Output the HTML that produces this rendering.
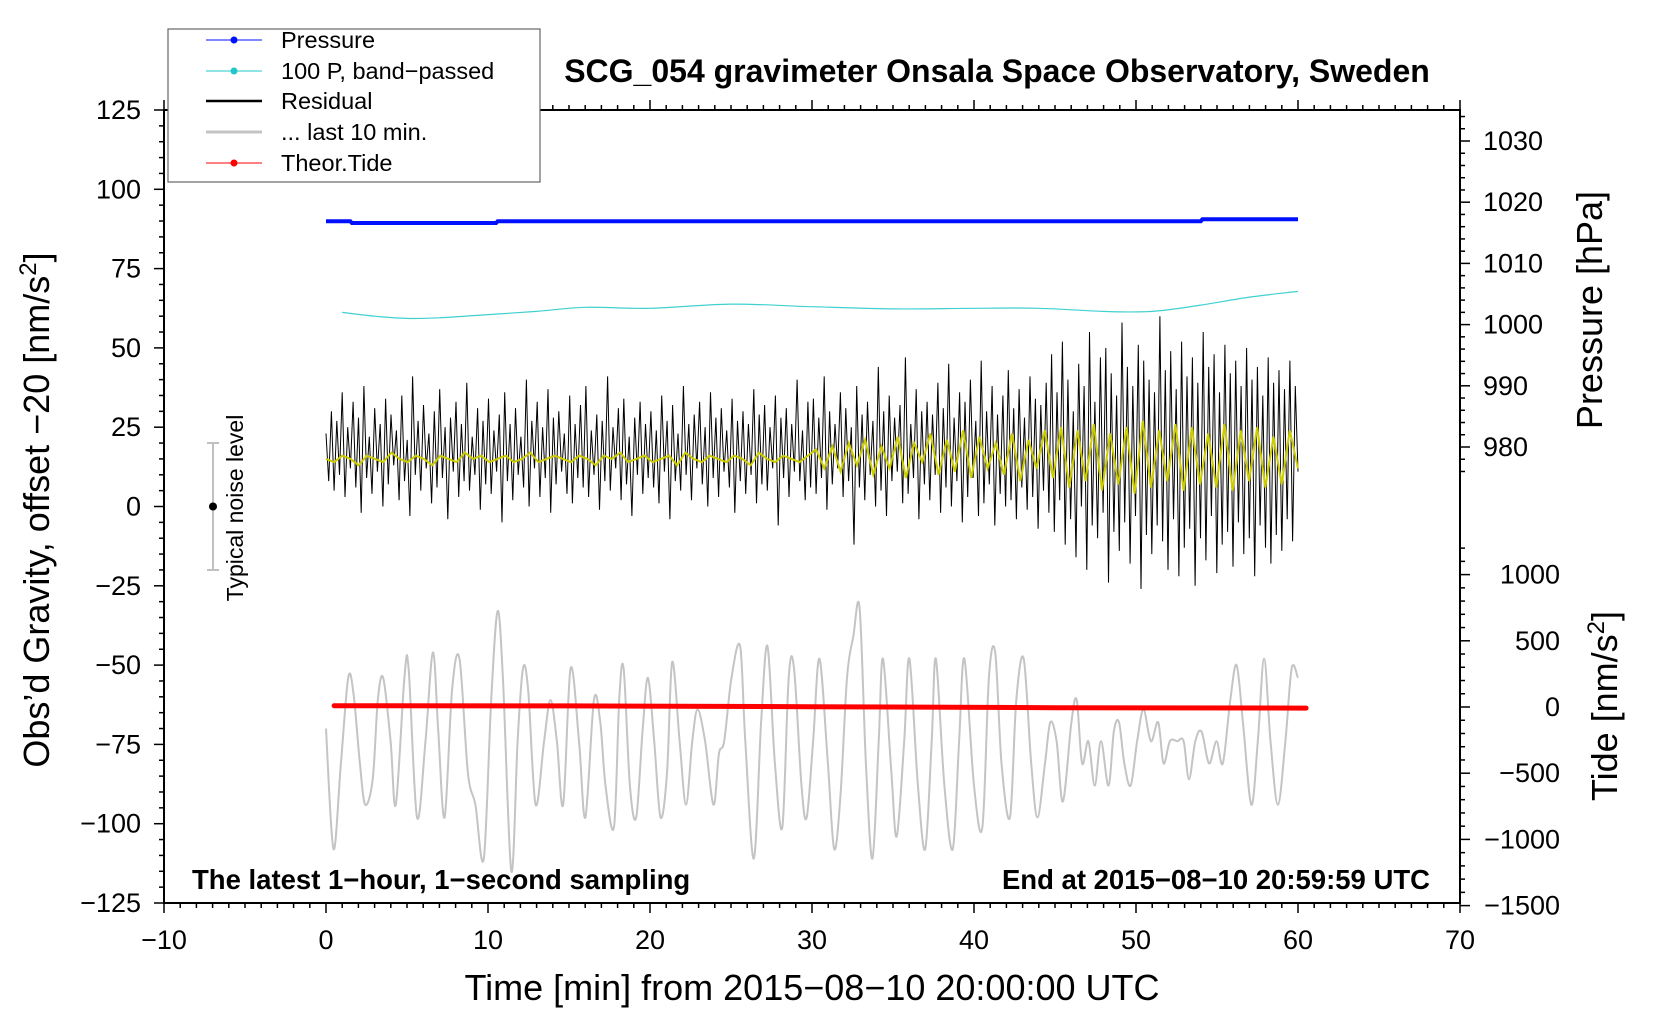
<!DOCTYPE html>
<html><head><meta charset="utf-8"><style>
html,body{margin:0;padding:0;background:#fff;}
svg{display:block;font-family:"Liberation Sans",sans-serif;}
</style></head><body>
<svg id="chart" width="1660" height="1020" viewBox="0 0 1660 1020" xmlns="http://www.w3.org/2000/svg">
<rect width="1660" height="1020" fill="#fff"/>
<g id="axes"></g>
<g id="series"></g>
<g id="labels"></g>
</svg>
<script>
// ---- data ----
const pressT=[0,1.5,1.6,10.5,10.6,54,54.1,60];
const pressV=[1016.9,1016.9,1016.6,1016.6,1016.9,1016.9,1017.2,1017.2];
const bpT=[1,3,5,7,10,13,16,20,25,30,35,40,44,48,51,54,57,60];
const bpV=[61.2,60,59.3,59.5,60.5,61.5,62.8,62.5,63.8,63,62.3,62.5,62.5,61.5,61.5,63.5,66,67.8];
const residual=[23,8,30,5,27,10,36,3,25,12,33,6,28,-2,38,9,22,4,31,11,26,0,34,7,29,13,24,2,35,8,21,-3,41,10,27,5,32,12,23,1,30,6,37,9,25,-4,28,11,33,3,26,8,39,5,22,10,31,-1,27,7,
34,4,24,11,29,-5,36,8,26,2,31,10,22,6,40,0,27,12,33,3,25,9,37,-2,28,7,30,11,23,4,35,1,26,9,32,6,38,3,24,10,29,-1,27,8,41,5,25,12,31,2,34,7,22,-3,28,10,33,4,26,9,
30,6,24,1,35,11,27,-4,32,8,23,5,38,10,26,2,29,12,33,7,25,0,36,9,28,3,31,11,24,6,34,-2,27,8,30,4,26,10,37,1,29,7,32,5,25,12,35,-6,28,9,31,3,26,11,40,8,24,2,33,6,
34,4,28,9,41,-1,30,7,26,12,36,3,31,8,25,-12,38,6,29,2,33,10,27,0,44,5,30,-3,35,8,28,11,32,1,47,4,26,9,37,-4,30,7,33,2,29,10,39,-2,31,6,45,0,28,8,36,-5,33,3,40,9,27,-3,46,1,30,7,38,-6,29,4,35,0,43,2,31,-4,37,6,28,-1,41,3,34,-7,32,5,39,-2,
48,-8,36,2,52,-12,40,-4,30,-16,45,0,38,-20,55,-6,33,-10,47,-2,50,-24,42,-8,35,-14,58,-5,44,-18,38,-3,51,-26,46,-9,40,-15,36,-6,60,-11,43,-20,49,-4,37,-22,52,-13,41,-7,47,-25,39,-10,55,-17,44,-3,48,-21,36,-12,51,-8,42,-19,46,-5,38,-15,50,-10,40,-22,44,-6,35,-13,47,-18,39,-9,43,-14,37,-4,46,-11,38,11];
const smooth=[15,14,16,15,13,16,15,14,17,15,14,16,15,13,16,15,14,17,15,16,14,15,16,14,15,17,14,15,16,15,14,16,15,13,16,15,17,14,15,16,14,15,16,13,17,15,14,16,15,14,16,15,13,17,15,14,16,15,14,16,
18,12,19,11,20,13,21,10,19,12,22,9,20,14,23,10,21,11,24,9,22,12,20,10,23,8,21,12,24,9,
25,6,24,8,26,5,23,7,25,4,27,6,24,8,26,5,25,7,23,6,26,5,24,8,25,6,22,7,24,12];
const lastT=[0,0.46,0.92,1.37,1.7,2.09,2.42,2.88,3.2,3.53,3.99,4.31,4.84,5.1,5.62,6.14,6.6,6.93,7.32,7.78,8.24,8.76,9.22,9.74,10.2,10.59,10.92,11.44,11.83,12.16,12.48,12.94,13.46,13.86,14.25,14.64,15.1,15.62,16.01,16.54,16.93,17.25,17.78,18.1,18.37,18.76,19.15,19.54,19.87,20.26,20.65,21.05,21.37,21.83,22.22,22.61,22.94,23.4,23.92,24.25,24.58,25.03,25.56,25.88,26.41,26.86,27.25,27.71,28.17,28.56,28.89,29.35,29.67,30.07,30.46,30.98,31.37,31.76,32.16,32.55,32.94,33.33,33.73,34.12,34.38,34.9,35.23,35.69,36.01,36.54,36.99,37.39,37.65,38.17,38.69,39.08,39.41,40,40.52,40.92,41.31,41.7,42.22,42.61,43.07,43.53,43.92,44.38,44.71,45.1,45.49,46.01,46.34,46.67,47.06,47.45,47.84,48.3,48.63,48.95,49.28,49.67,50.07,50.46,50.92,51.37,51.7,52.09,52.55,52.94,53.27,53.66,54.05,54.51,54.97,55.36,55.82,56.21,56.6,57.12,57.52,57.91,58.3,58.76,59.22,59.61,60];
const lastV=[-70,-108,-81,-54,-59,-81,-94,-86,-61,-54,-74,-94,-54,-51,-98,-74,-46,-71,-98,-58,-48,-84,-94,-111,-61,-33,-54,-115,-74,-51,-58,-94,-74,-61,-74,-94,-51,-74,-98,-61,-68,-88,-101,-61,-51,-88,-98,-71,-54,-74,-98,-84,-49,-74,-94,-74,-64,-74,-94,-78,-74,-54,-44,-74,-111,-68,-44,-81,-101,-54,-51,-88,-98,-74,-48,-81,-108,-91,-54,-41,-32,-81,-111,-74,-48,-84,-104,-74,-48,-88,-108,-74,-48,-88,-108,-74,-48,-88,-101,-54,-46,-81,-98,-61,-48,-81,-98,-81,-68,-74,-93,-68,-61,-81,-74,-88,-74,-88,-71,-68,-81,-88,-74,-64,-74,-68,-81,-74,-74,-74,-86,-74,-71,-81,-74,-81,-61,-50,-68,-94,-74,-48,-74,-94,-74,-51,-54];
const tideT=[0.5,15,30,45,60.5];
const tideV=[10,8,2,-5,-8];
const xTicks=[-10,0,10,20,30,40,50,60,70];
const yTicks=[125,100,75,50,25,0,-25,-50,-75,-100,-125];
const pTicks=[1030,1020,1010,1000,990,980];
const tTicks=[1000,500,0,-500,-1000,-1500];

// ---- axis functions ----
const XL=164,XR=1460;
const X=t=>XL+(t+10)*(XR-XL)/80;
const Y=v=>110+(125-v)*3.172;
const P=p=>141+(1030-p)*6.12;
const TD=v=>707-v*0.1324;
const NS="http://www.w3.org/2000/svg";
function mk(tag,attrs,parent){const e=document.createElementNS(NS,tag);for(const k in attrs)e.setAttribute(k,attrs[k]);parent.appendChild(e);return e;}
const axes=document.getElementById('axes'),series=document.getElementById('series'),labels=document.getElementById('labels');

const frame=mk('path',{d:`M${XL},110 H${XR} V903 H${XL} Z`,fill:'none',stroke:'#000','stroke-width':2},axes);


for(let v=-125;v<=125;v+=5){const y=Y(v);const l=(v%25===0)?10:5;const tk=mk('line',{x1:XL-l,x2:XL,y1:y,y2:y,stroke:'#000','stroke-width':1.5},axes);

}
yTicks.forEach(v=>{const t=mk('text',{x:141,y:Y(v)+9,'text-anchor':'end','font-size':27},labels);t.textContent=String(v).replace('-','\u2212');

});
for(let m=-10;m<=70;m++){const x=X(m);const l=(m%10===0)?10:5;
const b=mk('line',{x1:x,x2:x,y1:903,y2:903+l,stroke:'#000','stroke-width':1.5},axes);


const tp=mk('line',{x1:x,x2:x,y1:110,y2:110-l,stroke:'#000','stroke-width':1.5},axes);

}
xTicks.forEach(v=>{const t=mk('text',{x:X(v),y:949,'text-anchor':'middle','font-size':27},labels);t.textContent=String(v).replace('-','\u2212');

});
for(let p=1036;p>=976;p-=2){const y=P(p);if(y<110)continue;const l=(p%10===0)?10:5;const tk=mk('line',{x1:XR,x2:XR+l,y1:y,y2:y,stroke:'#000','stroke-width':1.5},axes);

}
pTicks.forEach(v=>{const t=mk('text',{x:1483,y:P(v)+9,'font-size':27},labels);t.textContent=String(v);

});
for(let v=-1500;v<=1200;v+=100){const y=TD(v);const l=(v%500===0)?10:5;const tk=mk('line',{x1:XR,x2:XR+l,y1:y,y2:y,stroke:'#000','stroke-width':1.5},axes);

}
tTicks.forEach(v=>{const t=mk('text',{x:1560,y:TD(v)+9,'text-anchor':'end','font-size':27},labels);t.textContent=String(v).replace('-','\u2212');

});

function line(xs,ys,fx,fy,attrs,name){const d=xs.map((x,i)=>(i?'L':'M')+fx(x).toFixed(1)+','+fy(ys[i]).toFixed(1)).join('');const p=mk('path',Object.assign({d:d,fill:'none'},attrs),series);

return p;}
function smoothLine(xs,ys,fx,fy,attrs,name){const pts=xs.map((x,i)=>[fx(x),fy(ys[i])]);let d='M'+pts[0][0].toFixed(1)+','+pts[0][1].toFixed(1);
for(let i=0;i<pts.length-1;i++){const p0=pts[i-1]||pts[i],p1=pts[i],p2=pts[i+1],p3=pts[i+2]||p2;
const c1=[p1[0]+(p2[0]-p0[0])/6,p1[1]+(p2[1]-p0[1])/6],c2=[p2[0]-(p3[0]-p1[0])/6,p2[1]-(p3[1]-p1[1])/6];
d+=`C${c1[0].toFixed(1)},${c1[1].toFixed(1)} ${c2[0].toFixed(1)},${c2[1].toFixed(1)} ${p2[0].toFixed(1)},${p2[1].toFixed(1)}`;}
const p=mk('path',Object.assign({d:d,fill:'none'},attrs),series);

return p;}
smoothLine(lastT,lastV,X,Y,{stroke:'#c4c4c4','stroke-width':2},'last-10-min-line');
const rT=residual.map((_,i)=>i*60/(residual.length-1));
line(rT,residual,X,Y,{stroke:'#000','stroke-width':1},'residual-line');
const sT=smooth.map((_,i)=>i*60/(smooth.length-1));
line(sT,smooth,X,Y,{stroke:'#cccc00','stroke-width':2},'residual-smoothed-line');
smoothLine(bpT,bpV,X,Y,{stroke:'#40d0d0','stroke-width':1.2},'band-passed-pressure-line');
line(pressT,pressV,X,P,{stroke:'#0010ff','stroke-width':4},'pressure-line');
line(tideT,tideV,X,TD,{stroke:'#ff0000','stroke-width':5,'stroke-linecap':'round'},'theoretical-tide-line');

const nb=mk('path',{d:`M213,${Y(20)}V${Y(-20)}M207,${Y(20)}H219M207,${Y(-20)}H219`,stroke:'#c0c0c0','stroke-width':2,fill:'none'},series);


const nd=mk('circle',{cx:213,cy:Y(0),r:4,fill:'#000'},series);


</script>
<svg style="position:absolute;left:0;top:0" width="1660" height="1020">
<g font-family="Liberation Sans, sans-serif">
<text transform="translate(243,508) rotate(-90)" text-anchor="middle" font-size="23">Typical noise level</text>
<rect x="168" y="29" width="372" height="153" fill="#fff" stroke="#666" stroke-width="1.2"/>
<g><line x1="206" x2="262" y1="40" y2="40" stroke="#0010ff" stroke-width="1"/><circle cx="234" cy="40" r="3.5" fill="#0010ff"/><text x="281" y="48" font-size="23.5">Pressure</text></g>
<g><line x1="206" x2="262" y1="71" y2="71" stroke="#20c8c8" stroke-width="1"/><circle cx="234" cy="71" r="3.5" fill="#20c8c8"/><text x="281" y="79" font-size="23.5">100 P, band−passed</text></g>
<g><line x1="206" x2="262" y1="101" y2="101" stroke="#000" stroke-width="2.5"/><text x="281" y="109" font-size="23.5">Residual</text></g>
<g><line x1="206" x2="262" y1="132" y2="132" stroke="#c4c4c4" stroke-width="3"/><text x="281" y="140" font-size="23.5">... last 10 min.</text></g>
<g><line x1="206" x2="262" y1="163" y2="163" stroke="#ff0000" stroke-width="1"/><circle cx="234" cy="163" r="3.5" fill="#ff0000"/><text x="281" y="171" font-size="23.5">Theor.Tide</text></g>
<text x="997" y="82" text-anchor="middle" font-size="32" font-weight="bold">SCG_054 gravimeter Onsala Space Observatory, Sweden</text>
<text x="192" y="889" font-size="27.5" font-weight="bold">The latest 1−hour, 1−second sampling</text>
<text x="1430" y="889" text-anchor="end" font-size="27.5" font-weight="bold">End at 2015−08−10 20:59:59 UTC</text>
<text x="812" y="1000" text-anchor="middle" font-size="36">Time [min] from 2015−08−10 20:00:00 UTC</text>
<text transform="translate(49,510) rotate(-90)" text-anchor="middle" font-size="36">Obs’d Gravity, offset −20 [nm/s<tspan font-size="24" dy="-13">2</tspan><tspan dy="13">]</tspan></text>
<text transform="translate(1602,310) rotate(-90)" text-anchor="middle" font-size="36">Pressure [hPa]</text>
<text transform="translate(1617,706) rotate(-90)" text-anchor="middle" font-size="36">Tide [nm/s<tspan font-size="24" dy="-13">2</tspan><tspan dy="13">]</tspan></text>
</g></svg>
</body></html>
